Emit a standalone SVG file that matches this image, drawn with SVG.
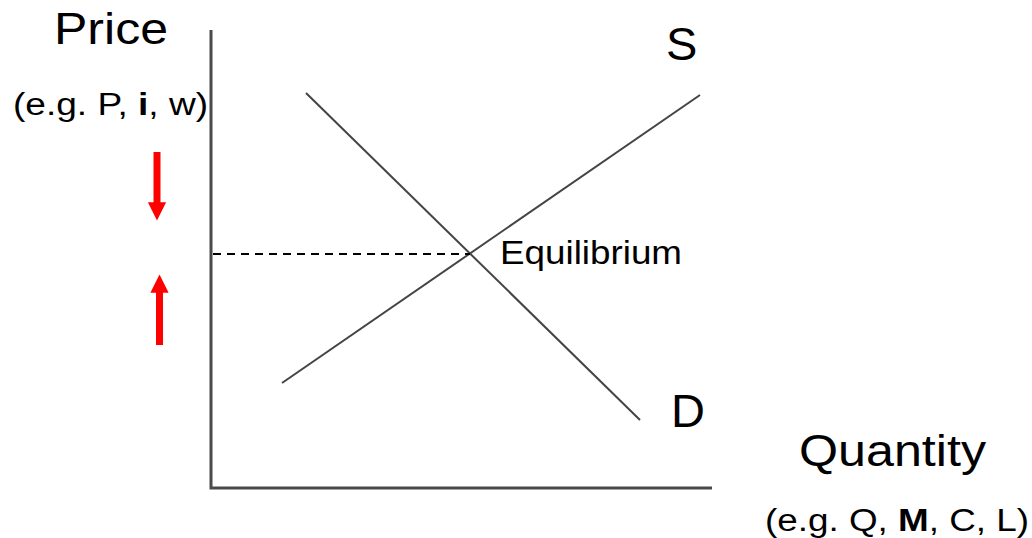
<svg xmlns="http://www.w3.org/2000/svg" width="1032" height="538" viewBox="0 0 1032 538">
<style>
text{font-family:"Liberation Sans",Arial,sans-serif;fill:#000}
.big{font-size:44px}
.sub{font-size:31px}
.lbl{font-size:47px}
.axis{stroke:#4a4a4a;stroke-width:3;fill:none}
.curve{stroke:#444;stroke-width:2;fill:none}
.arr{stroke:#ff0000;stroke-width:7;fill:none}
</style>
<defs>
<marker id="ah" viewBox="0 0 10 10" refX="2" refY="5" markerWidth="2.6" markerHeight="3" orient="auto" markerUnits="strokeWidth">
<path d="M0,0 L10,5 L0,10 z" fill="#ff0000"/>
</marker>
</defs>
<g id="axes">
<polyline class="axis" points="211,30 211,488 712,488"/>
</g>
<g id="labels">
<text class="big" x="54" y="44" textLength="114" lengthAdjust="spacingAndGlyphs">Price</text>
<text class="sub" x="13" y="115" textLength="195" lengthAdjust="spacingAndGlyphs">(e.g. P, <tspan font-weight="bold">i</tspan>, w)</text>
<text class="big" x="799" y="466" textLength="187" lengthAdjust="spacingAndGlyphs">Quantity</text>
<text class="sub" x="765" y="531" textLength="264" lengthAdjust="spacingAndGlyphs">(e.g. Q, <tspan font-weight="bold">M</tspan>, C, L)</text>
</g>
<g id="connectors">
<line class="curve" x1="282" y1="383" x2="700" y2="95"/>
<line class="curve" x1="306" y1="93" x2="640" y2="420"/>
<line x1="213" y1="254" x2="470" y2="254" stroke="#000" stroke-width="2" stroke-dasharray="8,6"/>
<line class="arr" x1="157" y1="152" x2="157" y2="206" marker-end="url(#ah)"/>
<line class="arr" x1="159.5" y1="345" x2="159.5" y2="289" marker-end="url(#ah)"/>
</g>
<g id="S"><text class="lbl" x="666" y="60">S</text></g>
<g id="D"><text class="lbl" x="671" y="427">D</text></g>
<g id="equilibrium"><text x="500" y="264" font-size="33" textLength="182" lengthAdjust="spacingAndGlyphs">Equilibrium</text></g>
</svg>
